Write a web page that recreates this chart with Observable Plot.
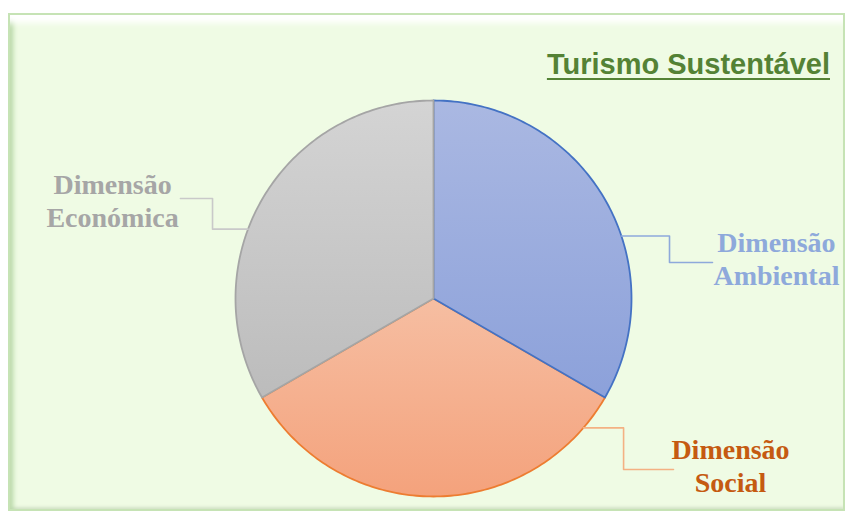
<!DOCTYPE html>
<html><head><meta charset="utf-8">
<script src="https://cdn.jsdelivr.net/npm/d3@7"></script>
<script src="https://cdn.jsdelivr.net/npm/@observablehq/plot@0.6"></script>
<style>
html,body{margin:0;padding:0;background:#fff;}
#wrap{position:relative;width:846px;height:514px;overflow:hidden;}
#panel{position:absolute;left:8px;top:13px;width:837px;height:498px;box-sizing:border-box;background:#EFFBE4;border:2px solid #C6E3B5;
  box-shadow: inset 0 12px 6px -4px #fff, inset 7px 0 5px -4px #B5D6A3, inset 0 -4px 3px -2px #d3e2c8;}
#title{position:absolute;right:16px;top:50px;font:bold 29px "Liberation Sans",sans-serif;color:#548235;text-decoration:underline;text-decoration-thickness:2px;text-underline-offset:4px;line-height:29px;white-space:nowrap;}
#chart{position:absolute;left:0;top:0;}
</style></head>
<body>
<div id="wrap">
  <div id="panel"></div>
  <div id="chart"></div>
  <div id="title">Turismo Sustentável</div>
</div>
<script>
// ---- data ----
const categories = ["Ambiental", "Social", "Económica"];
const values = [1, 1, 1];
const labelPrefix = "Dimensão";

// ---- styling (not data) ----
const sliceTop    = {Ambiental: "#AAB8E2", Social: "#F6BEA2", "Económica": "#D4D4D4"};
const sliceBottom = {Ambiental: "#8CA1DA", Social: "#F4A27C", "Económica": "#BCBCBC"};
const sliceStroke = {Ambiental: "#4472C4", Social: "#ED7D31", "Económica": "#A5A5A5"};
const labelColor  = {Ambiental: "#8EA9DB", Social: "#C55A11", "Económica": "#A6A6A6"};
const leaderColor = {Ambiental: "#8EA9DB", Social: "#F4B183", "Económica": "#C9C9C9"};
// label layout in chart units (radius = 1)
const layout = {
  Ambiental:   {angle: 71.6,  elbowX: 1.192, lineY: 0.182,  endX: 1.409,  textX: 1.732, textY: 0.205},
  Social:      {angle: 130.8, elbowX: 0.960, lineY: -0.864, endX: 1.212,  textX: 1.500, textY: -0.843},
  "Económica": {angle: 290.5, elbowX: -1.116, lineY: 0.505, endX: -1.278, textX: -1.621, textY: 0.50}
};

const arcs = d3.pie().sort(null).value(d => d)(values);
const slices = categories.map((c, i) => {
  const a = arcs[i];
  const n = 120;
  const pts = [[0, 0]];
  for (let k = 0; k <= n; k++) {
    const t = a.startAngle + (a.endAngle - a.startAngle) * k / n;
    pts.push([Math.sin(t), Math.cos(t)]);
  }
  pts.push([0, 0]);
  return {cat: c, pts};
});

const drawOrder = ["Social", "Ambiental", "Económica"];
const marks = [];
for (const c of drawOrder) {
  const s = slices.find(d => d.cat === c);
  marks.push(Plot.line(s.pts, {
    x: d => d[0], y: d => d[1],
    fill: `url(#grad-${categories.indexOf(c)})`,
    stroke: sliceStroke[c], strokeWidth: 1.8, strokeLinejoin: "round", curve: "linear"
  }));
}
for (const c of categories) {
  const L = layout[c];
  const r = L.angle * Math.PI / 180;
  const sx = Math.sin(r), sy = Math.cos(r);
  const path = [[sx, sy], [L.elbowX, sy], [L.elbowX, L.lineY], [L.endX, L.lineY]];
  marks.push(Plot.line(path, {x: d => d[0], y: d => d[1], stroke: leaderColor[c], strokeWidth: 1.6}));
  marks.push(Plot.text([c], {
    x: () => L.textX, y: () => L.textY, text: d => `${labelPrefix}\n${d}`,
    fill: labelColor[c], fontFamily: "Liberation Serif", fontWeight: "bold", fontSize: 28,
    lineHeight: 1.18, textAnchor: "middle", lineAnchor: "middle"
  }));
}

const chart = Plot.plot({
  width: 846, height: 514,
  marginLeft: 235, marginRight: 215, marginTop: 100, marginBottom: 18,
  x: {domain: [-1, 1], axis: null},
  y: {domain: [-1, 1], axis: null},
  style: {background: "none", overflow: "visible"},
  marks
});

const svg = d3.select(chart);
const defs = svg.insert("defs", ":first-child");
categories.forEach((c, i) => {
  const g = defs.append("linearGradient").attr("id", `grad-${i}`)
    .attr("x1", 0).attr("y1", 0).attr("x2", 0).attr("y2", 1);
  g.append("stop").attr("offset", "0%").attr("stop-color", sliceTop[c]);
  g.append("stop").attr("offset", "100%").attr("stop-color", sliceBottom[c]);
});
document.getElementById("chart").appendChild(chart);
</script>
</body></html>
